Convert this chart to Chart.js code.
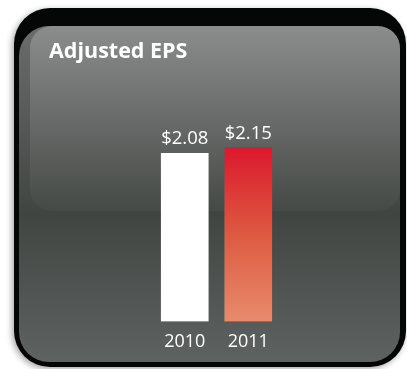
<!DOCTYPE html>
<html>
<head>
<meta charset="utf-8">
<script src="https://cdn.jsdelivr.net/npm/chart.js@4"></script>
<style>
  html, body { margin: 0; padding: 0; background: #ffffff; }
  #wrap { width: 407px; height: 369px; }
</style>
</head>
<body>
<div id="wrap"><canvas id="epsChart" width="407" height="369"></canvas></div>
<script>
const years = ['2010', '2011'];
const eps = [2.08, 2.15];
const valueLabels = ['$2.08', '$2.15'];
const chartTitle = 'Adjusted EPS';

function roundRect(c, x, y, w, h, r) {
    c.beginPath();
    c.moveTo(x + r, y);
    c.arcTo(x + w, y, x + w, y + h, r);
    c.arcTo(x + w, y + h, x, y + h, r);
    c.arcTo(x, y + h, x, y, r);
    c.arcTo(x, y, x + w, y, r);
    c.closePath();
}

const panelBackground = {
    id: 'panelBackground',
    beforeDraw(chart) {
        const c = chart.ctx;
        c.save();
        // soft shadow + black frame
        c.shadowColor = 'rgba(0,0,0,0.35)';
        c.shadowBlur = 6;
        c.shadowOffsetX = -2;
        c.shadowOffsetY = 2;
        c.fillStyle = '#050606';
        roundRect(c, 14, 8, 392, 359, 36);
        c.fill();
        c.restore();

        c.save();
        // inner panel
        let g = c.createLinearGradient(0, 26, 0, 362);
        g.addColorStop(0, '#6a6d6c');
        g.addColorStop(0.56, '#414542');
        g.addColorStop(1, '#5e6261');
        c.fillStyle = g;
        roundRect(c, 19, 26, 381, 336, 30);
        c.fill();

        // gloss
        g = c.createLinearGradient(0, 26, 0, 211);
        g.addColorStop(0, '#8b8d8c');
        g.addColorStop(1, '#464a47');
        c.fillStyle = g;
        roundRect(c, 30, 26, 370, 185, 22);
        c.fill();

        // title
        c.fillStyle = '#ffffff';
        c.font = 'bold 21.5px "Open Sans"';
        c.textBaseline = 'alphabetic';
        c.fillText(chartTitle, 49, 58);
        c.restore();
    }
};

const valueLabelPlugin = {
    id: 'valueLabels',
    afterDatasetsDraw(chart) {
        const c = chart.ctx;
        const meta = chart.getDatasetMeta(0);
        c.save();
        c.fillStyle = '#ffffff';
        c.font = '18.5px "Open Sans"';
        c.textAlign = 'center';
        c.textBaseline = 'alphabetic';
        meta.data.forEach((bar, i) => {
            c.fillText(valueLabels[i], bar.x, bar.y - 9);
        });
        c.restore();
    }
};

const ctx = document.getElementById('epsChart').getContext('2d');

const epsChart = new Chart(ctx, {
    type: 'bar',
    data: {
        labels: years,
        datasets: [{
            data: eps,
            backgroundColor: (context) => {
                if (context.dataIndex === 0) return '#ffffff';
                const area = context.chart.chartArea;
                if (!area) return '#e05040';
                const y0 = context.chart.scales.y.getPixelForValue(eps[1]);
                const y1 = context.chart.scales.y.getPixelForValue(0);
                const grad = context.chart.ctx.createLinearGradient(0, y0, 0, y1);
                grad.addColorStop(0, '#dc182e');
                grad.addColorStop(0.5, '#dd5a40');
                grad.addColorStop(1, '#e88a6c');
                return grad;
            },
            borderWidth: 0,
            barThickness: 47
        }]
    },
    options: {
        responsive: false,
        animation: false,
        layout: { padding: { left: 153, right: 127, top: 79, bottom: 6 } },
        plugins: {
            legend: { display: false },
            tooltip: { enabled: false }
        },
        scales: {
            x: {
                grid: { display: false, drawTicks: false },
                border: { display: false },
                ticks: {
                    color: '#ffffff',
                    font: { family: 'Open Sans', size: 18 },
                    padding: 10
                }
            },
            y: {
                display: false,
                min: 0,
                max: 3
            }
        }
    },
    plugins: [panelBackground, valueLabelPlugin]
});
</script>
</body>
</html>
